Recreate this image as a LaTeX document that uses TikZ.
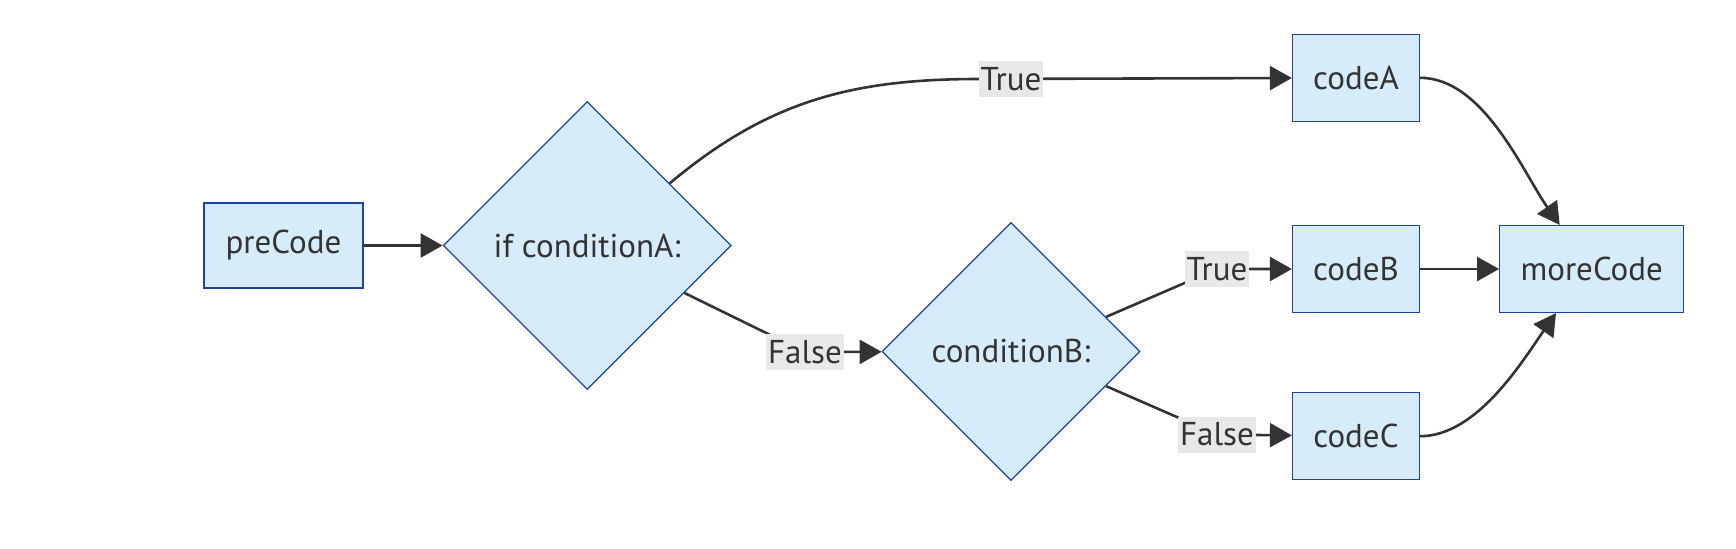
\documentclass[tikz,border=0pt]{standalone}
\usepackage{fontspec}
\setmainfont{PT Sans}
\usetikzlibrary{arrows.meta,positioning,shapes.geometric,backgrounds}
\definecolor{ink}{RGB}{51,51,51}
\definecolor{sky}{RGB}{214,236,250}
\definecolor{navy}{RGB}{30,66,158}
\definecolor{tagbg}{RGB}{232,232,232}

\begin{document}
\begin{tikzpicture}[x=0.5pt,y=-0.5pt,node distance=39.5pt,font=\fontsize{16.5}{19}\selectfont,text=ink,box/.style={draw=navy,line width=0.6pt,fill=sky,minimum width=63.5pt,minimum height=43.5pt,inner sep=0pt},cond/.style={diamond,aspect=1,draw=navy,line width=0.6pt,fill=sky,inner sep=0pt},tag/.style={fill=tagbg,inner xsep=1pt,inner ysep=0pt,minimum height=18pt},arrow/.style={-{Triangle[length=11pt,width=12pt]},line width=1.3pt,draw=ink}]
\useasboundingbox (0,0) rectangle (1736,548);
\node[box,minimum width=79.5pt,minimum height=42.5pt] (pre) at (283.5,245.5) {preCode};
\node[cond,minimum size=144pt,right=of pre] (ifA) {if conditionA:};
\node[cond,minimum size=129pt] (ifB) at (1011,351.5) {conditionB:};
\node[box] (codeB) at (1356,269) {codeB};
\node[box,above=51.5pt of codeB] (codeA) {codeA};
\node[box,below=of codeB] (codeC) {codeC};
\node[box,minimum width=92pt,right=of codeB] (more) {moreCode};
\node[tag] (tA) at (1011,79) {True};
\node[tag] (fA) at (805,352) {False};
\node[tag] (tB) at (1217,269) {True};
\node[tag] (fB) at (1217,434.5) {False};
\begin{scope}[on background layer]
\draw[arrow] (pre) -- (ifA); \draw[arrow] (ifA.37) to[out=40,in=180] (tA.west) -- (codeA);
\draw[arrow] (ifA.-26) -- (fA.center) -- (ifB); \draw[arrow] (ifB.20) -- (tB.center) -- (codeB); \draw[arrow] (ifB.-20) -- (fB.center) -- (codeC);
\draw[arrow] (codeA.east) to[out=0,in=125,looseness=0.8] (more.126); \draw[arrow] (codeB) -- (more); \draw[arrow] (codeC.east) to[out=0,in=-125,looseness=0.8] (more.-129);
\end{scope}
\end{tikzpicture}
\end{document}
